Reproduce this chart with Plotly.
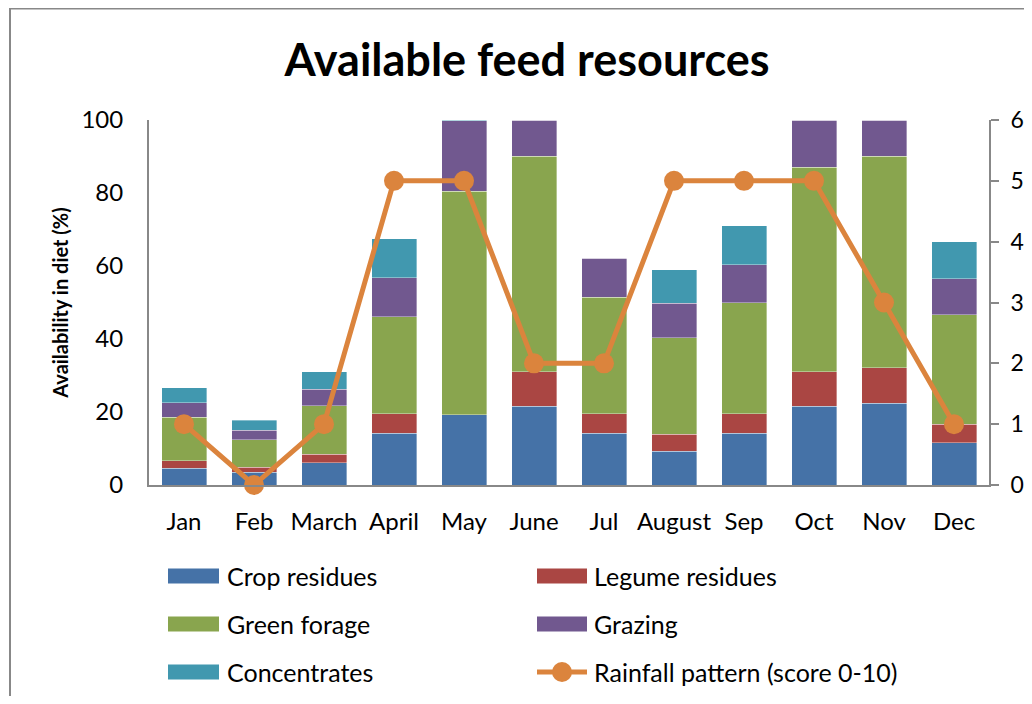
import plotly.graph_objects as go

months = ["Jan", "Feb", "March", "April", "May", "June", "Jul", "August", "Sep", "Oct", "Nov", "Dec"]
crop_residues = [4.6, 3.5, 6.1, 14.2, 19.2, 21.6, 14.2, 9.2, 14.2, 21.6, 22.4, 11.6]
legume_residues = [2.0, 1.3, 2.3, 5.3, 0.0, 9.4, 5.3, 4.7, 5.3, 9.4, 9.7, 5.0]
green_forage = [12.0, 7.6, 13.3, 26.6, 61.3, 59.1, 31.9, 26.5, 30.4, 56.0, 58.0, 30.0]
grazing = [3.9, 2.6, 4.6, 10.7, 19.3, 9.9, 10.7, 9.4, 10.5, 13.0, 9.9, 9.9]
concentrates = [4.2, 2.7, 4.7, 10.7, 0.2, 0.0, 0.0, 9.2, 10.6, 0.0, 0.0, 10.1]
rainfall = [1, 0, 1, 5, 5, 2, 2, 5, 5, 5, 3, 1]

series_names = ["Crop residues", "Legume residues", "Green forage", "Grazing", "Concentrates"]
series_values = [crop_residues, legume_residues, green_forage, grazing, concentrates]
series_colors = ["#4572A7", "#AA4643", "#89A54E", "#71588F", "#4198AF"]
line_name = "Rainfall pattern (score 0-10)"
line_color = "#DB843D"

FONT = "Lato"
OFF = 8  # page body margin
W, H = 1032 - 2 * OFF, 704 - 2 * OFF
L, R, T, B = 149 - OFF, 989 - OFF, 120 - OFF, 485 - OFF

def px(x):
    return (x - OFF - L) / (R - L)

def py(y):
    return (B - (y - OFF)) / (B - T)

fig = go.Figure()
for name, vals, col in zip(series_names, series_values, series_colors):
    fig.add_trace(go.Bar(
        x=months, y=vals, name=name, marker_color=col,
        marker_line=dict(color="rgba(255,255,255,0.45)", width=0.8),
        showlegend=False,
    ))
fig.add_trace(go.Scatter(
    x=months, y=rainfall, name=line_name, yaxis="y2", mode="lines+markers",
    line=dict(color=line_color, width=5), marker=dict(size=20, color=line_color),
    cliponaxis=False, showlegend=False,
))

shapes = []
annotations = []
# outer chart frame
shapes.append(dict(type="rect", xref="paper", yref="paper",
                   x0=px(10), x1=px(1060), y0=py(730), y1=py(8.5),
                   line=dict(color="#888888", width=2), fillcolor="rgba(0,0,0,0)", layer="below"))

# custom legend
legend_items = [(n, c, "bar") for n, c in zip(series_names, series_colors)] + [(line_name, line_color, "line")]
cols_sw = [(168, 219, 225), (537, 587, 592)]
rows_y = [576, 624, 672]
for i, (name, col, kind) in enumerate(legend_items):
    cx0, cx1, tx = cols_sw[i % 2]
    yc = rows_y[i // 2]
    if kind == "bar":
        shapes.append(dict(type="rect", xref="paper", yref="paper",
                           x0=px(cx0), x1=px(cx1), y0=py(yc + 7.5), y1=py(yc - 7.5),
                           line=dict(width=0), fillcolor=col))
    else:
        shapes.append(dict(type="line", xref="paper", yref="paper",
                           x0=px(cx0), x1=px(cx1), y0=py(yc), y1=py(yc),
                           line=dict(color=col, width=5)))
        mx = (cx0 + cx1) / 2
        shapes.append(dict(type="circle", xref="paper", yref="paper",
                           x0=px(mx - 10), x1=px(mx + 10), y0=py(yc + 10), y1=py(yc - 10),
                           line=dict(width=0), fillcolor=col))
    annotations.append(dict(text=name, xref="paper", yref="paper", x=px(tx), y=py(yc),
                            xanchor="left", yanchor="middle", showarrow=False,
                            font=dict(family=FONT, size=25, color="black")))

fig.update_layout(
    width=W, height=H,
    margin=dict(l=L, r=W - R, t=T, b=H - B, autoexpand=False),
    paper_bgcolor="white", plot_bgcolor="white",
    barmode="stack", bargap=0.357,
    font=dict(family=FONT, size=24, color="black"),
    title=dict(text="<b>Available feed resources</b>", x=(527 - OFF) / W, xref="container",
               xanchor="center", y=1 - (60 - OFF) / H, yref="container", yanchor="middle",
               font=dict(family=FONT, size=45, color="black")),
    xaxis=dict(range=[-0.5, 11.5], showline=True, linecolor="#888888", linewidth=2,
               ticks="", ticklabelstandoff=14, tickfont=dict(size=24), showgrid=False,
               automargin=False),
    yaxis=dict(range=[0, 100], tickvals=[0, 20, 40, 60, 80, 100], showline=True,
               linecolor="#888888", linewidth=2, ticks="", ticklabelstandoff=19,
               tickfont=dict(size=24), showgrid=False, zeroline=False, automargin=False,
               title=dict(text="<b>Availability in diet (%)</b>", standoff=7,
                          font=dict(family=FONT, size=20))),
    yaxis2=dict(range=[0, 6], tickvals=[0, 1, 2, 3, 4, 5, 6], overlaying="y", side="right",
                showline=True, linecolor="#888888", linewidth=2, ticks="outside", ticklen=8,
                tickcolor="#888888", tickwidth=2, ticklabelstandoff=7, automargin=False,
                tickfont=dict(size=23), showgrid=False, zeroline=False),
    shapes=shapes, annotations=annotations,
)

fig.write_html("out.html")
